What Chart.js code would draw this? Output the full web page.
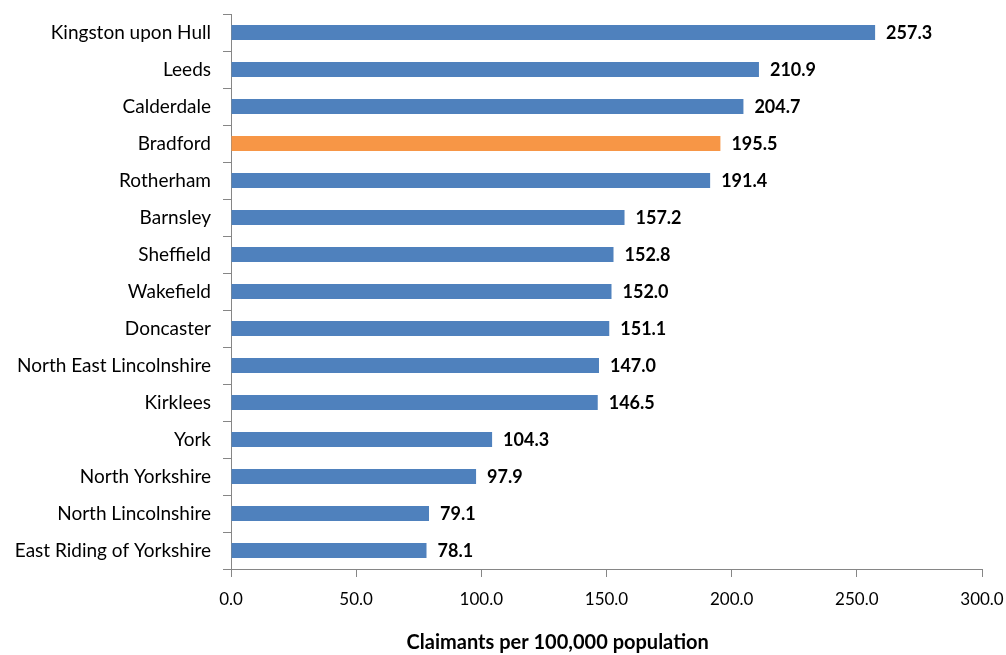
<!DOCTYPE html>
<html>
<head>
<meta charset="utf-8">
<script src="https://cdn.jsdelivr.net/npm/chart.js@4"></script>
<style>
  html, body { margin: 0; padding: 0; background: #fff; }
  #wrap { width: 1006px; height: 655px; position: relative; }
</style>
</head>
<body>
<div id="wrap"><canvas id="c" width="1006" height="655"></canvas></div>
<script>
const areas = [
  "Kingston upon Hull", "Leeds", "Calderdale", "Bradford", "Rotherham",
  "Barnsley", "Sheffield", "Wakefield", "Doncaster", "North East Lincolnshire",
  "Kirklees", "York", "North Yorkshire", "North Lincolnshire", "East Riding of Yorkshire"
];
const claimantRates = [
  257.3, 210.9, 204.7, 195.5, 191.4,
  157.2, 152.8, 152.0, 151.1, 147.0,
  146.5, 104.3, 97.9, 79.1, 78.1
];
const highlightArea = "Bradford";
const xTicks = [0, 50, 100, 150, 200, 250, 300];
const xAxisTitle = "Claimants per 100,000 population";

const FONT = "Lato, 'Open Sans', sans-serif";
const BLUE = "#4F81BD";
const ORANGE = "#F79646";
const AXIS = "#868686";

// Value labels printed just past the end of each bar, plus the axis title
const valueLabels = {
  id: "valueLabels",
  afterDatasetsDraw(chart) {
    const ctx = chart.ctx;
    const meta = chart.getDatasetMeta(0);
    ctx.save();
    ctx.font = "bold 18px " + FONT;
    ctx.fillStyle = "#000";
    ctx.textAlign = "left";
    ctx.textBaseline = "middle";
    meta.data.forEach((bar, i) => {
      ctx.fillText(claimantRates[i].toFixed(1), bar.x + 11, bar.y + 1);
    });
    const area = chart.chartArea;
    ctx.font = "bold 20px " + FONT;
    ctx.textAlign = "center";
    ctx.fillText(xAxisTitle, area.left + (area.right - area.left) * 0.435, 643);
    ctx.restore();
  }
};

new Chart(document.getElementById("c"), {
  type: "bar",
  data: {
    labels: areas,
    datasets: [{
      data: claimantRates,
      backgroundColor: areas.map(a => a === highlightArea ? ORANGE : BLUE),
      barPercentage: 0.4,
      categoryPercentage: 1.0
    }]
  },
  options: {
    indexAxis: "y",
    responsive: false,
    animation: false,
    layout: { padding: { top: 14, right: 24, left: 0, bottom: 0 } },
    plugins: { legend: { display: false }, tooltip: { enabled: false } },
    scales: {
      y: {
        offset: true,
        afterFit(scale) {
          scale.width = 231;
          scale.paddingTop = 0;
          scale.paddingBottom = 0;
        },
        border: { color: AXIS, width: 1 },
        grid: { offset: true, drawOnChartArea: false, tickLength: 8, color: AXIS },
        ticks: { color: "#000", font: { family: FONT, size: 19 }, padding: 12 }
      },
      x: {
        min: 0, max: 300,
        afterBuildTicks(scale) { scale.ticks = xTicks.map(v => ({ value: v })); },
        afterFit(scale) {
          scale.height = 86;
          scale.paddingRight = 0;
          scale.paddingLeft = 0;
        },
        border: { color: AXIS, width: 1 },
        grid: { drawOnChartArea: false, tickLength: 8, color: AXIS },
        ticks: {
          color: "#000", font: { family: FONT, size: 17 }, padding: 12,
          maxRotation: 0,
          callback: v => Number(v).toFixed(1)
        }
      }
    }
  },
  plugins: [valueLabels]
});
</script>
</body>
</html>
